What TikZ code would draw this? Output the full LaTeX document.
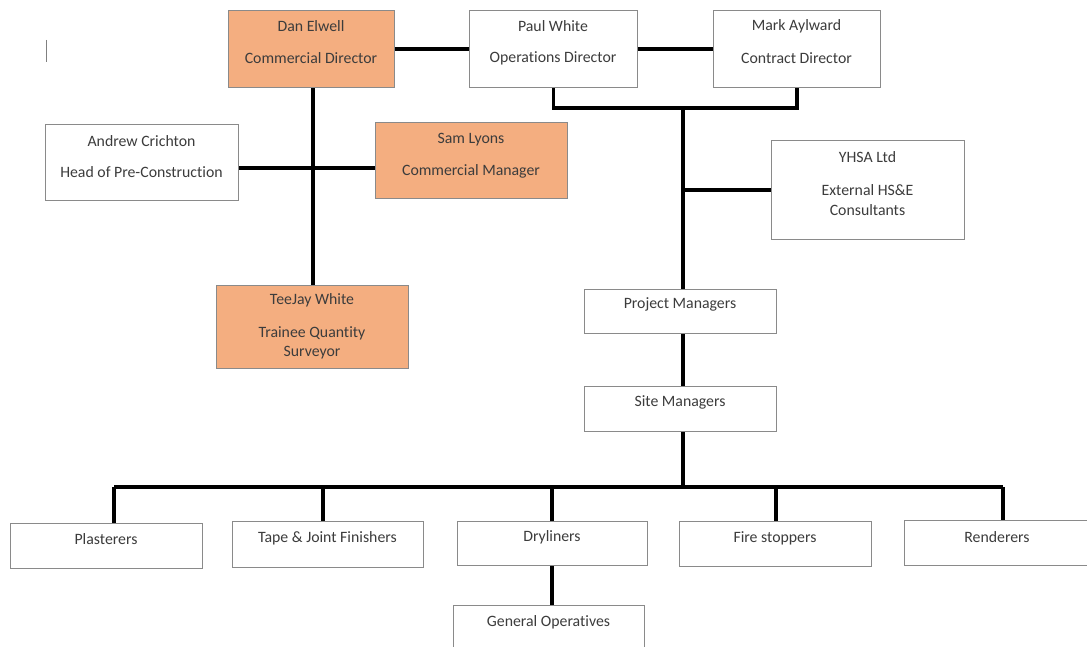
\documentclass[tikz,border=0pt]{standalone}
\usepackage{fontspec}
\setmainfont{Carlito}[Ligatures={NoCommon}]
\definecolor{orbox}{HTML}{F4AE80}
\definecolor{bord}{HTML}{8A8A8A}
\definecolor{txt}{HTML}{3C3C3C}
\begin{document}
\begin{tikzpicture}[x=1pt,y=-1pt,
  box/.style={draw=bord, line width=1.2pt, fill=white, inner sep=0pt, anchor=north west},
  obox/.style={box, fill=orbox},
  lbl/.style={text=txt, font=\fontsize{15.8}{18}\selectfont, inner sep=0pt, anchor=center},
  conn/.style={line width=3.5pt, black},
  cursorline/.style={draw=gray, line width=1pt}]
\clip (0,0) rectangle (1087,647);
\fill[white] (0,0) rectangle (1087,647);
% boxes
\node[obox, minimum width=166pt, minimum height=77pt] (dan) at (228,10) {};
\node[box, minimum width=168pt, minimum height=77pt] (paul) at (469,10) {};
\node[box, minimum width=167pt, minimum height=77pt] (mark) at (713,10) {};
\node[box, minimum width=193pt, minimum height=76pt] (andrew) at (45,124) {};
\node[obox, minimum width=192pt, minimum height=76pt] (sam) at (375,122) {};
\node[obox, minimum width=192pt, minimum height=83pt] (teejay) at (216,285) {};
\node[box, minimum width=193pt, minimum height=99pt] (yhsa) at (771,140) {};
\node[box, minimum width=192pt, minimum height=44pt] (pm) at (584,289) {};
\node[box, minimum width=192pt, minimum height=45pt] (sm) at (584,386) {};
\node[box, minimum width=192pt, minimum height=45pt] (plast) at (10,523) {};
\node[box, minimum width=191pt, minimum height=46pt] (tape) at (232,521) {};
\node[box, minimum width=190pt, minimum height=44pt] (dry) at (457,521) {};
\node[box, minimum width=192pt, minimum height=45pt] (fire) at (679,521) {};
\node[box, minimum width=192pt, minimum height=45pt] (rend) at (904,520) {};
\node[box, minimum width=191pt, minimum height=50pt] (genop) at (453,605) {};
% texts
\node[lbl] (danA) at (311,26) {Dan Elwell};
\node[lbl] (danB) at (311,58) {Commercial Director};
\node[lbl] (paulA) at (553,26) {Paul White};
\node[lbl] (paulB) at (553,58) {Operations Director};
\node[lbl] (markA) at (796.5,26) {Mark Aylward};
\node[lbl] (markB) at (796.5,58) {Contract Director};
\node[lbl] (andrewA) at (141.5,141) {Andrew Crichton};
\node[lbl] (andrewB) at (141.5,172) {Head of Pre-Construction};
\node[lbl] (samA) at (471,140) {Sam Lyons};
\node[lbl] (samB) at (471,171) {Commercial Manager};
\node[lbl] (teeA) at (312,300) {TeeJay White};
\node[lbl] (teeB) at (312,333) {Trainee Quantity};
\node[lbl] (teeC) at (312,353) {Surveyor};
\node[lbl] (yhsaA) at (867.5,157) {YHSA Ltd};
\node[lbl] (yhsaB) at (867.5,190) {External HS\&E};
\node[lbl] (yhsaC) at (867.5,210) {Consultants};
\node[lbl] (pmA) at (680,304) {Project Managers};
\node[lbl] (smA) at (680,402) {Site Managers};
\node[lbl] (plastA) at (106,539) {Plasterers};
\node[lbl] (tapeA) at (327.5,538) {Tape \& Joint Finishers};
\node[lbl] (dryA) at (552,537) {Dryliners};
\node[lbl] (fireA) at (775,538) {Fire stoppers};
\node[lbl] (rendA) at (997,537) {Renderers};
\node[lbl] (genopA) at (548.5,622) {General Operatives};
% coordinates
\coordinate (jA) at (313,168);
\coordinate (t1) at (683,108);
\coordinate (bus) at (683,487);
\coordinate (d1) at (114,487);
\coordinate (d2) at (323,487);
\coordinate (d3) at (552,487);
\coordinate (d4) at (776,487);
\coordinate (d5) at (1003,487);
\coordinate (m1) at (46,40);
\coordinate (m2) at (46,62);
% connectors
\draw[conn] (dan.east) -- (paul.west);
\draw[conn] (paul.east) -- (mark.west);
\draw[conn] (dan.south -| jA) -- (teejay.north -| jA);
\draw[conn] (andrew.east |- jA) -- (sam.west |- jA);
\draw[conn] (paul.south) |- (t1) -| (mark.south);
\draw[conn] (t1) -- (t1 |- pm.north);
\draw[conn] (yhsa.west -| t1) -- (yhsa.west);
\draw[conn] (pm.south -| t1) -- (sm.north -| t1);
\draw[conn] (sm.south -| t1) -- (bus);
\draw[conn] (d1) -- (d5);
\draw[conn] (d1) -- (d1 |- plast.north);
\draw[conn] (d2) -- (d2 |- tape.north);
\draw[conn] (d3) -- (d3 |- dry.north);
\draw[conn] (d4) -- (d4 |- fire.north);
\draw[conn] (d5) -- (d5 |- rend.north);
\draw[conn] (d3 |- dry.south) -- (d3 |- genop.north);
\draw[cursorline] (m1) -- (m2);
\end{tikzpicture}
\end{document}
